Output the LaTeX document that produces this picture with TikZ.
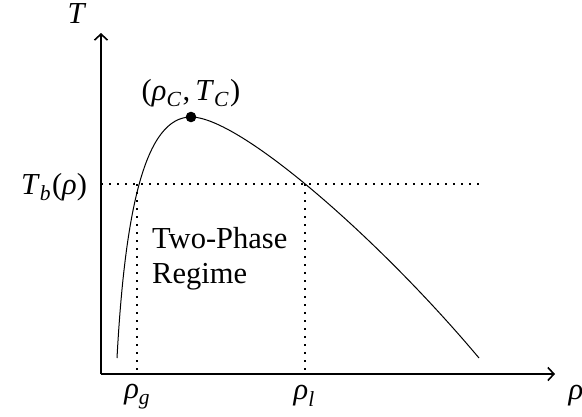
\documentclass[tikz,border=0pt]{standalone}
\usepackage{fontspec}
\setmainfont{Liberation Serif}
\usetikzlibrary{arrows.meta}
\newcommand\mysub[1]{\raisebox{-0.2em}{\fontsize{21.5}{21.5}\selectfont\itshape #1\/}\hspace{1.5pt}}
\newcommand\myit[1]{{\itshape #1\/}}
\tikzset{
  axis/.style={line width=1.6pt,-{Straight Barb[length=6pt,width=13pt,line width=1.6pt]}},
  guide/.style={line width=1.7pt,dash pattern=on 1.7pt off 6.3pt},
  curve/.style={line width=1pt},
  lbl/.style={inner sep=0pt,font=\fontsize{30.5}{35}\selectfont}
}
\begin{document}
\begin{tikzpicture}[x=1pt,y=-1pt]
\useasboundingbox (0,0) rectangle (582,416);
\coordinate (O) at (101,374);
\coordinate (Ytip) at (101,33);
\coordinate (Xtip) at (555,374);
\coordinate (HL) at (101,184);
\coordinate (HR) at (481,184);
\coordinate (G) at (137,184);
\coordinate (Gb) at (137,374);
\coordinate (L) at (305,184);
\coordinate (Lb) at (305,374);
\coordinate (S) at (117,358);
\coordinate (C) at (191,117);
\coordinate (E) at (479,358);
% dotted guides
\draw[guide] (HL) -- (HR);
\draw[guide] (G) -- (Gb);
\draw[guide] (L) -- (Lb);
% curve
\draw[curve] (S) .. controls (125,210) and (145,117) .. (C)
  .. controls (240,117) and (380,240) .. (E);
\fill (C) circle (5.3pt);
% axes
\draw[axis] (O) -- (Ytip);
\draw[axis] (O) -- (Xtip);
% labels
\node[lbl] (tlab) at (77,14) {\myit{T}};
\node[lbl] (rholab) at (576,396) {\myit{ρ}};
\node[lbl] (tb) at (54,187) {\myit{T}\mysub{b}(\myit{ρ})};
\node[lbl] (crit) at (191,93) {(\myit{ρ}\mysub{C},\,\myit{T}\mysub{C})};
\node[lbl] (rg) at (137,397) {\myit{ρ}\mysub{g}};
\node[lbl] (rl) at (304,396) {\myit{ρ}\mysub{l}};
\node[lbl,anchor=north west,align=left] (reg) at (152,227) {Two-Phase\\Regime};
\end{tikzpicture}
\end{document}
